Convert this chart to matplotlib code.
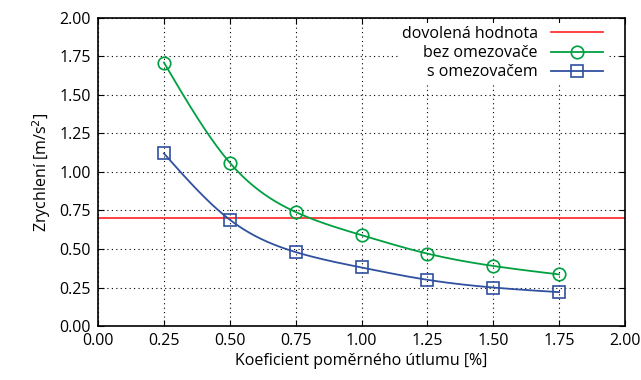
import numpy as np
import matplotlib
matplotlib.use("Agg")
import matplotlib.pyplot as plt
from matplotlib.lines import Line2D

plt.rcParams['font.family'] = ['Open Sans', 'DejaVu Sans']

x = [0.25, 0.5, 0.75, 1.0, 1.25, 1.5, 1.75]
bez = [1.71, 1.06, 0.74, 0.59, 0.47, 0.39, 0.335]
s_om = [1.12, 0.69, 0.48, 0.38, 0.30, 0.25, 0.22]
limit = 0.70
xticks = [0.0, 0.25, 0.5, 0.75, 1.0, 1.25, 1.5, 1.75, 2.0]
yticks = [0.0, 0.25, 0.5, 0.75, 1.0, 1.25, 1.5, 1.75, 2.0]

green = '#00a040'
blue = '#3050a0'
red = '#ff2020'


def natural_spline(xs, ys, n=300):
    xs = np.asarray(xs, float); ys = np.asarray(ys, float)
    k = len(xs)
    h = np.diff(xs)
    A = np.zeros((k, k)); b = np.zeros(k)
    A[0, 0] = 1; A[-1, -1] = 1
    for i in range(1, k - 1):
        A[i, i - 1] = h[i - 1]; A[i, i] = 2 * (h[i - 1] + h[i]); A[i, i + 1] = h[i]
        b[i] = 3 * ((ys[i + 1] - ys[i]) / h[i] - (ys[i] - ys[i - 1]) / h[i - 1])
    c = np.linalg.solve(A, b)
    xx = np.linspace(xs[0], xs[-1], n)
    yy = np.empty_like(xx)
    for j, t in enumerate(xx):
        i = min(np.searchsorted(xs, t, side='right') - 1, k - 2)
        dx = t - xs[i]
        bi = (ys[i + 1] - ys[i]) / h[i] - h[i] * (2 * c[i] + c[i + 1]) / 3
        di = (c[i + 1] - c[i]) / (3 * h[i])
        yy[j] = ys[i] + bi * dx + c[i] * dx ** 2 + di * dx ** 3
    return xx, yy


fig = plt.figure(figsize=(6.41, 3.80), dpi=100)
ax = fig.add_axes([0.153, 0.142, 0.822, 0.811])

ax.axhline(limit, color=red, lw=1.2, zorder=2)
gx, gy = natural_spline(x, bez)
ax.plot(gx, gy, color=green, lw=1.3, zorder=3)
ax.plot(x, bez, ls='none', marker='o', ms=9, mfc='none', mec=green, mew=1.2, zorder=4)
bx, by = natural_spline(x, s_om)
ax.plot(bx, by, color=blue, lw=1.3, zorder=3)
ax.plot(x, s_om, ls='none', marker='s', ms=9, mfc='none', mec=blue, mew=1.2, zorder=4)

ax.set_xlim(0, 2)
ax.set_ylim(0, 2)
ax.set_xticks(xticks)
ax.set_yticks(yticks)
ax.set_xticklabels([f"{v:.2f}" for v in xticks])
ax.set_yticklabels([f"{v:.2f}" for v in yticks])
ax.tick_params(direction='in', top=True, right=True, length=4, width=0.8, labelsize=11.5, pad=5)
ax.grid(True, color='black', ls=(0, (1, 3)), lw=0.8)
for sp in ax.spines.values():
    sp.set_linewidth(1.2)
    sp.set_zorder(6)

ax.set_xlabel('Koeficient poměrného útlumu [%]', fontsize=11.5, labelpad=3)
ax.set_ylabel('Zrychlení [m/s$^2$]', fontsize=11.5, labelpad=5)

handles = [
    Line2D([], [], color=red, lw=1.2),
    Line2D([], [], color=green, lw=1.3, marker='o', ms=9, mfc='none', mec=green, mew=1.2),
    Line2D([], [], color=blue, lw=1.3, marker='s', ms=9, mfc='none', mec=blue, mew=1.2),
]
leg = ax.legend(handles, ['dovolená hodnota', 'bez omezovače', 's omezovačem'],
                loc='upper right', bbox_to_anchor=(0.965, 0.984), frameon=True,
                markerfirst=False, fontsize=11.5,
                handlelength=3.3, borderaxespad=0.0, labelspacing=0.2, handletextpad=0.8,
                borderpad=0.2, fancybox=False, edgecolor='none', framealpha=1)
for t in leg.get_texts():
    t.set_ha('right')
leg.set_zorder(5)

fig.savefig('out.png', dpi=100)
